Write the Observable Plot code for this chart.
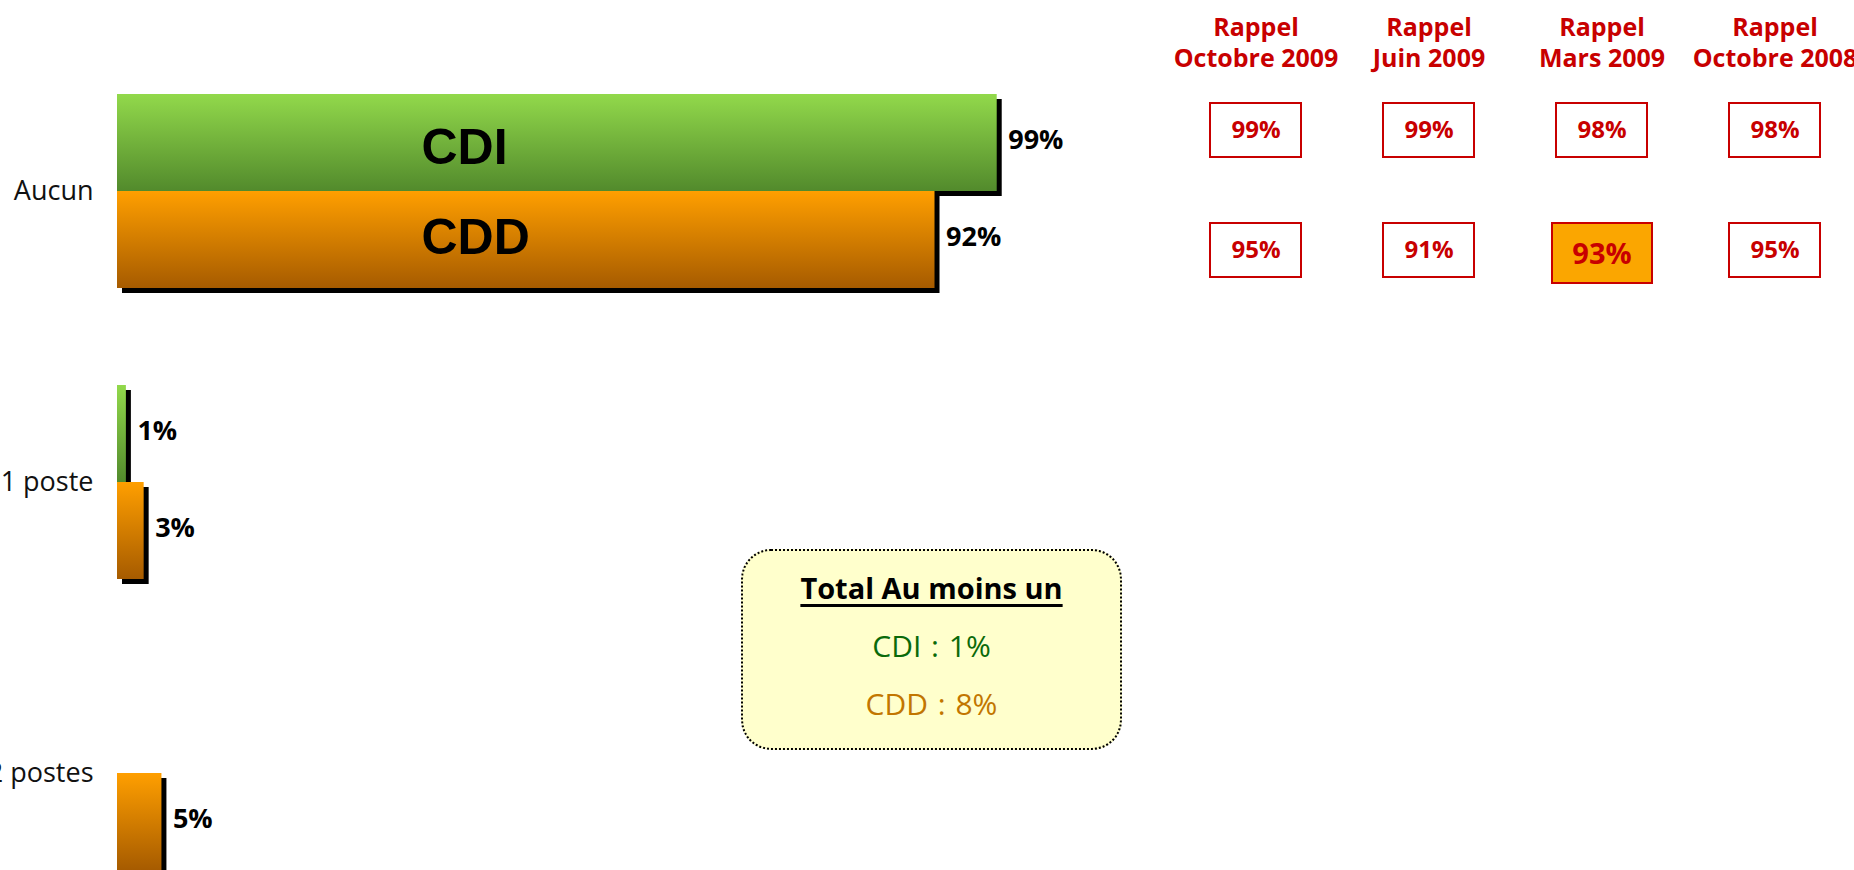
<!DOCTYPE html>
<html>
<head>
<meta charset="utf-8">
<script src="https://cdn.jsdelivr.net/npm/d3@7"></script>
<script src="https://cdn.jsdelivr.net/npm/@observablehq/plot@0.6"></script>
<style>
html, body { margin: 0; padding: 0; background: #fff; overflow: hidden; }
#wrap { position: relative; width: 1854px; height: 870px; overflow: hidden; font-family: "Open Sans", sans-serif; }
#wrap svg { position: absolute; left: 0; top: 0; }
#total { position: absolute; left: 741px; top: 549px; width: 377px; height: 189px; border: 2px dotted #000; border-radius: 30px; background: #FFFFCC; text-align: center; padding-top: 8px; box-sizing: content-box; }
#total div { line-height: 58px; }
</style>
</head>
<body>
<div id="wrap"></div>
<script>
// ---- data ----
const categories = ["Aucun", "1 poste", "2 postes"];
const series = ["CDI", "CDD"];
const cdiValues = [99, 1, 0];
const cddValues = [92, 3, 5];

const periods = ["Octobre 2009", "Juin 2009", "Mars 2009", "Octobre 2008"];
const rappelCDI = [99, 99, 98, 98];
const rappelCDD = [95, 91, 93, 95];
const highlighted = [{period: "Mars 2009", series: "CDD"}];

const totalTitle = "Total Au moins un";
const totalSeries = ["CDI", "CDD"];
const totalValues = [1, 8];

// ---- tables ----
const rows = categories.flatMap((c, i) => [
  {cat: c, series: "CDI", value: cdiValues[i], key: c + "|CDI"},
  {cat: c, series: "CDD", value: cddValues[i], key: c + "|CDD"}
]);
const yDomain = categories.flatMap((c, i) => i ? [c + "|gap", c + "|CDI", c + "|CDD"] : [c + "|CDI", c + "|CDD"]);
const shown = rows.filter(d => d.value > 0);
const firstCat = rows.filter(d => d.cat === categories[0]);

const wrap = document.getElementById("wrap");

// ---- main bar chart ----
const main = Plot.plot({
  width: 1854,
  height: 870,
  margin: 0,
  style: {background: "transparent"},
  x: {domain: [0, 100], range: [117, 1005.6], axis: null},
  y: {domain: yDomain, range: [94, 870], padding: 0, axis: null},
  marks: [
    Plot.barX(shown, {x: "value", y: "key", fill: "#000", dx: 5, dy: 5}),
    Plot.barX(shown.filter(d => d.series === "CDI"), {x: "value", y: "key", fill: "url(#gradCDI)"}),
    Plot.barX(shown.filter(d => d.series === "CDD"), {x: "value", y: "key", fill: "url(#gradCDD)"}),
    Plot.text(shown, {x: "value", y: "key", text: d => d.value + "%", dx: 11, dy: -3, textAnchor: "start",
      fontSize: 27, fontWeight: 700, fontFamily: "Open Sans", fill: "#000"}),
    Plot.text(firstCat.filter(d => d.series === "CDI"), {x: 0, y: "key", text: "series", dx: 304, dy: 5,
      textAnchor: "start", fontSize: 50, fontWeight: 700, fontFamily: "Liberation Sans", fill: "#000"}),
    Plot.text(firstCat.filter(d => d.series === "CDD"), {x: 0, y: "key", text: "series", dx: 304, dy: -2,
      textAnchor: "start", fontSize: 50, fontWeight: 700, fontFamily: "Liberation Sans", fill: "#000"}),
    Plot.text(categories, {x: 0, y: d => d + "|CDD", text: d => d, dx: -24, dy: -48.5, textAnchor: "end",
      fontSize: 27, fontFamily: "Open Sans", fill: "#111"})
  ]
});
const defs = d3.select(main).insert("defs", ":first-child");
const gradients = [
  {id: "gradCDI", top: "#92D94B", bottom: "#528A2C"},
  {id: "gradCDD", top: "#FF9F00", bottom: "#A65B00"}
];
for (const g of gradients) {
  const lg = defs.append("linearGradient").attr("id", g.id).attr("x1", 0).attr("y1", 0).attr("x2", 0).attr("y2", 1);
  lg.append("stop").attr("offset", "0%").attr("stop-color", g.top);
  lg.append("stop").attr("offset", "100%").attr("stop-color", g.bottom);
}
wrap.appendChild(main);

// ---- rappel table ----
const isHl = (p, s) => highlighted.some(h => h.period === p && h.series === s);
const cells = periods.flatMap((p, i) => [
  {period: p, series: "CDI", value: rappelCDI[i], hl: isHl(p, "CDI")},
  {period: p, series: "CDD", value: rappelCDD[i], hl: isHl(p, "CDD")}
]);
const red = "#C80000";
const table = Plot.plot({
  width: 1854,
  height: 300,
  margin: 0,
  style: {background: "transparent"},
  x: {domain: periods, range: [1209, 1820], paddingInner: 0.475, paddingOuter: 0, axis: null},
  y: {domain: series, range: [103, 277], paddingInner: 0.55, paddingOuter: 0, axis: null},
  marks: [
    Plot.cell(cells.filter(d => !d.hl), {x: "period", y: "series", fill: "#fff", stroke: red, strokeWidth: 2}),
    Plot.cell(cells.filter(d => d.hl), {x: "period", y: "series", fill: "#FBA600", stroke: red, strokeWidth: 2,
      insetLeft: -4, insetRight: -5, insetBottom: -6}),
    Plot.text(cells.filter(d => !d.hl), {x: "period", y: "series", text: d => d.value + "%", fill: red,
      fontSize: 24, fontWeight: 700, fontFamily: "Open Sans"}),
    Plot.text(cells.filter(d => d.hl), {x: "period", y: "series", text: d => d.value + "%", fill: red, dy: 4,
      fontSize: 29, fontWeight: 700, fontFamily: "Open Sans"}),
    Plot.text(periods, {x: d => d, frameAnchor: "top", text: d => "Rappel\n" + d, lineAnchor: "top",
      lineHeight: 1.25, dy: 13, fill: red, fontSize: 25, fontWeight: 700, fontFamily: "Open Sans"})
  ]
});
wrap.appendChild(table);

// ---- total box ----
const total = document.createElement("div");
total.id = "total";
const t = document.createElement("div");
t.textContent = totalTitle;
t.style.cssText = "font-weight:700;font-size:29px;text-decoration:underline;text-underline-offset:5px;text-decoration-thickness:2.5px;color:#000";
total.appendChild(t);
const totalColors = {CDI: "#0A6A0A", CDD: "#C27600"};
totalSeries.forEach((s, i) => {
  const d = document.createElement("div");
  d.textContent = s + " : " + totalValues[i] + "%";
  d.style.cssText = "font-size:30px;word-spacing:2px;color:" + totalColors[s];
  total.appendChild(d);
});
wrap.appendChild(total);
</script>
</body>
</html>
